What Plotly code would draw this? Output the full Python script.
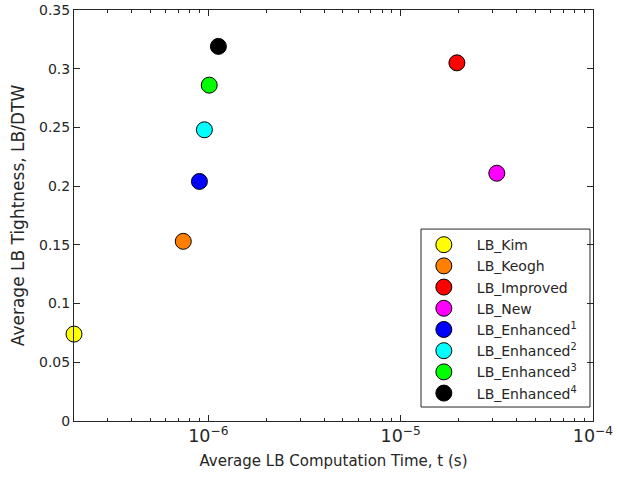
import plotly.graph_objects as go

names = ["LB_Kim", "LB_Keogh", "LB_Improved", "LB_New",
         "LB_Enhanced<sup>1</sup>", "LB_Enhanced<sup>2</sup>",
         "LB_Enhanced<sup>3</sup>", "LB_Enhanced<sup>4</sup>"]
times = [2.0e-7, 7.4e-7, 1.96e-5, 3.16e-5, 8.98e-7, 9.53e-7, 1.01e-6, 1.127e-6]
tightness = [0.074, 0.153, 0.305, 0.211, 0.204, 0.248, 0.286, 0.319]
colors = ["#FFFF00", "#FF8000", "#FF0000", "#FF00FF",
          "#0000FF", "#00FFFF", "#00FF00", "#000000"]
y_ticks = [0, 0.05, 0.1, 0.15, 0.2, 0.25, 0.3, 0.35]
y_tick_text = ["0", "0.05", "0.1", "0.15", "0.2", "0.25", "0.3", "0.35"]

fig = go.Figure()
for i, (n, t, v, c) in enumerate(zip(names, times, tightness, colors)):
    fig.add_trace(go.Scatter(
        x=[t], y=[v], mode="markers", name=n, cliponaxis=False,
        legendgroup="g%d" % i,
        marker=dict(size=16, color=c, line=dict(color="black", width=1)),
    ))

font = "DejaVu Sans, Verdana, sans-serif"
fig.update_layout(
    width=618, height=477,
    margin=dict(l=74, r=25, t=10, b=56),
    paper_bgcolor="white", plot_bgcolor="white",
    font=dict(family=font, size=14, color="#262626"),
    showlegend=True,
    legend=dict(x=0.649, y=0.029, xanchor="left", yanchor="bottom",
                borderwidth=0, bgcolor="rgba(0,0,0,0)",
                font=dict(size=14, color="#262626"), itemsizing="trace",
                tracegroupgap=0, itemwidth=56),
    shapes=[dict(type="rect", xref="paper", yref="paper",
                 x0=0.6686, x1=0.9942, y0=0.034, y1=0.467,
                 line=dict(color="#262626", width=1),
                 fillcolor="white", layer="below")],
)
fig.update_xaxes(
    type="log", range=[-6.699, -4], automargin=False,
    tickmode="linear", tick0=0, dtick=1, exponentformat="power",
    ticks="inside", ticklen=6, tickcolor="#262626",
    minor=dict(dtick="D1", ticks="inside", ticklen=3, tickcolor="#262626"),
    showline=True, linecolor="#262626", linewidth=1, mirror="ticks",
    showgrid=False, zeroline=False,
    title=dict(text="Average LB Computation Time, t (s)", standoff=10,
               font=dict(size=15)),
    tickfont=dict(size=14),
)
fig.update_yaxes(
    range=[0, 0.35], tickvals=y_ticks, ticktext=y_tick_text, automargin=False,
    ticks="inside", ticklen=6, tickcolor="#262626",
    showline=True, linecolor="#262626", linewidth=1, mirror="ticks",
    showgrid=False, zeroline=False,
    title=dict(text="Average LB Tightness, LB/DTW", standoff=10,
               font=dict(size=17)),
    tickfont=dict(size=14),
)
fig.write_html("out.html", config={"displayModeBar": False},
               post_script="document.body.style.margin='0';document.body.style.overflow='hidden';")
